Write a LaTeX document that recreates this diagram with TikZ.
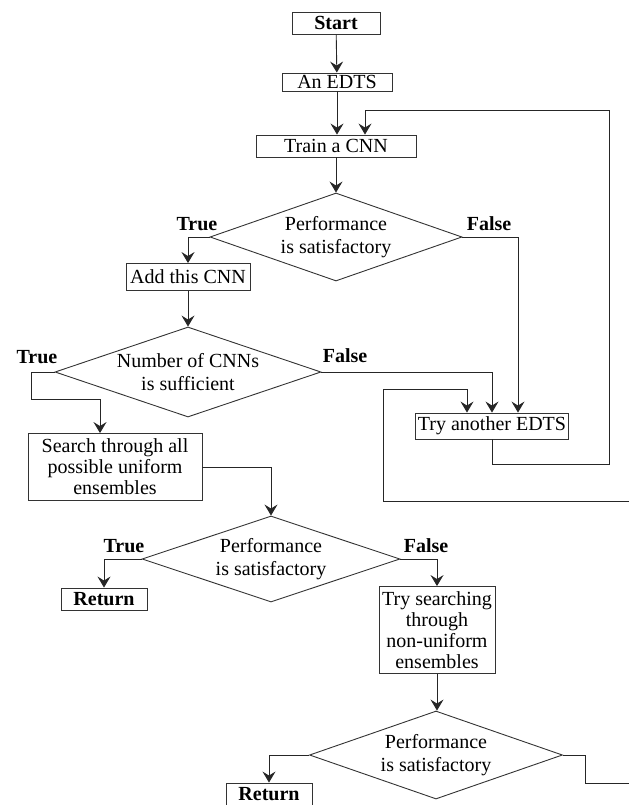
\documentclass[tikz,border=0pt]{standalone}
\usepackage{fontspec}
\setmainfont{Liberation Serif}
\newfontfamily\tms{Liberation Serif}
\usetikzlibrary{arrows.meta,shapes.geometric,calc}
\newcommand{\fnt}{\tms\fontsize{20}{21}\selectfont}

\begin{document}
\begin{tikzpicture}[
  x=1pt,y=-1pt,
  font=\fnt,
  b/.style={draw=black!80,line width=0.9pt,inner sep=0pt,align=center},
  bb/.style={b,font=\fnt\bfseries},
  dec/.style={b,diamond,aspect=2.9,font=\tms\fontsize{20}{23}\selectfont},
  tf/.style={font=\fnt\bfseries,inner sep=0pt},
  a/.style={-{Stealth[length=11pt,width=13pt,inset=4pt]},draw=black!85,line width=0.9pt}
]
\useasboundingbox (0,0) rectangle (629,805);

% main column
\node[bb,minimum width=88pt,minimum height=22pt] (start) at (336,23) {Start};
\node[b,minimum width=110pt,minimum height=18pt] (edts) at (337,82) {An EDTS};
\node[b,minimum width=160pt,minimum height=22pt] (train) at (336,146) {Train a CNN};
\node[dec,minimum width=252pt,minimum height=88pt] (d1) at (336,237) {Performance\\is satisfactory};

% left branch
\node[b,minimum width=124pt,minimum height=27pt] (add) at (188,277) {Add this CNN};
\node[dec,minimum width=266pt,minimum height=90pt] (d2) at (188,372) {Number of CNNs\\is sufficient};
\node[b,minimum width=174pt,minimum height=67pt] (search) at (115,467) {Search through all\\possible uniform\\ensembles};
\node[dec,minimum width=258pt,minimum height=86pt] (d3) at (271,559) {Performance\\is satisfactory};
\node[bb,minimum width=86pt,minimum height=22pt] (ret1) at (104,599) {Return};

% right branch
\node[b,minimum width=153pt,minimum height=26pt] (try) at (492,426) {Try another EDTS};
\node[b,minimum width=116pt,minimum height=87pt] (tsearch) at (437,630) {Try searching\\through\\non-uniform\\ensembles};
\node[dec,minimum width=253pt,minimum height=88pt] (d4) at (436,755) {Performance\\is satisfactory};
\node[bb,minimum width=86pt,minimum height=22pt] (ret2) at (269,794) {Return};

% labels
\node[tf] (t1) at (197,224) {True};
\node[tf] (f1) at (489,224) {False};
\node[tf] (t2) at (37,357) {True};
\node[tf] (f2) at (345,356) {False};
\node[tf] (t3) at (124,546) {True};
\node[tf] (f3) at (426,546) {False};

\coordinate (loop) at (609,110);
\coordinate (outA) at (629,783);
\coordinate (outB) at (629,501);

\draw[a] (start) -- (edts);
\draw[a] (edts.south) -- (edts.south |- train.north);
\draw[a] (train) -- (d1);
\draw[a] (d1.west) -| (add.north);
\draw[a] (d1.east) -| ($(try.north)+(26,0)$);
\draw[a] (add.south) -- (add.south |- d2.north);
\draw[a] (d2.west) -- ++(-23,0) |- ($(search.north)+(-15,-34)$) -- ($(search.north)+(-15,0)$);
\draw[a] (d2.east) -| (try.north);
\draw[a] (try.south) -- ++(0,25) -| (loop) -| ($(train.north)+(29,0)$);
\draw[a] (search.east) -| (d3.north);
\draw[a] (d3.west) -| (ret1.north);
\draw[a] (d3.east) -| (tsearch.north);
\draw[a] (tsearch.south) -- (tsearch.south |- d4.north);
\draw[a] (d4.west) -| (ret2.north);
\draw[a,-] (d4.east) -- ++(22,0) |- (outA);
\draw[a] (outB) -| ($(try.north)+(-109,-23)$) -| ($(try.north)+(-25,0)$);
\end{tikzpicture}
\end{document}
